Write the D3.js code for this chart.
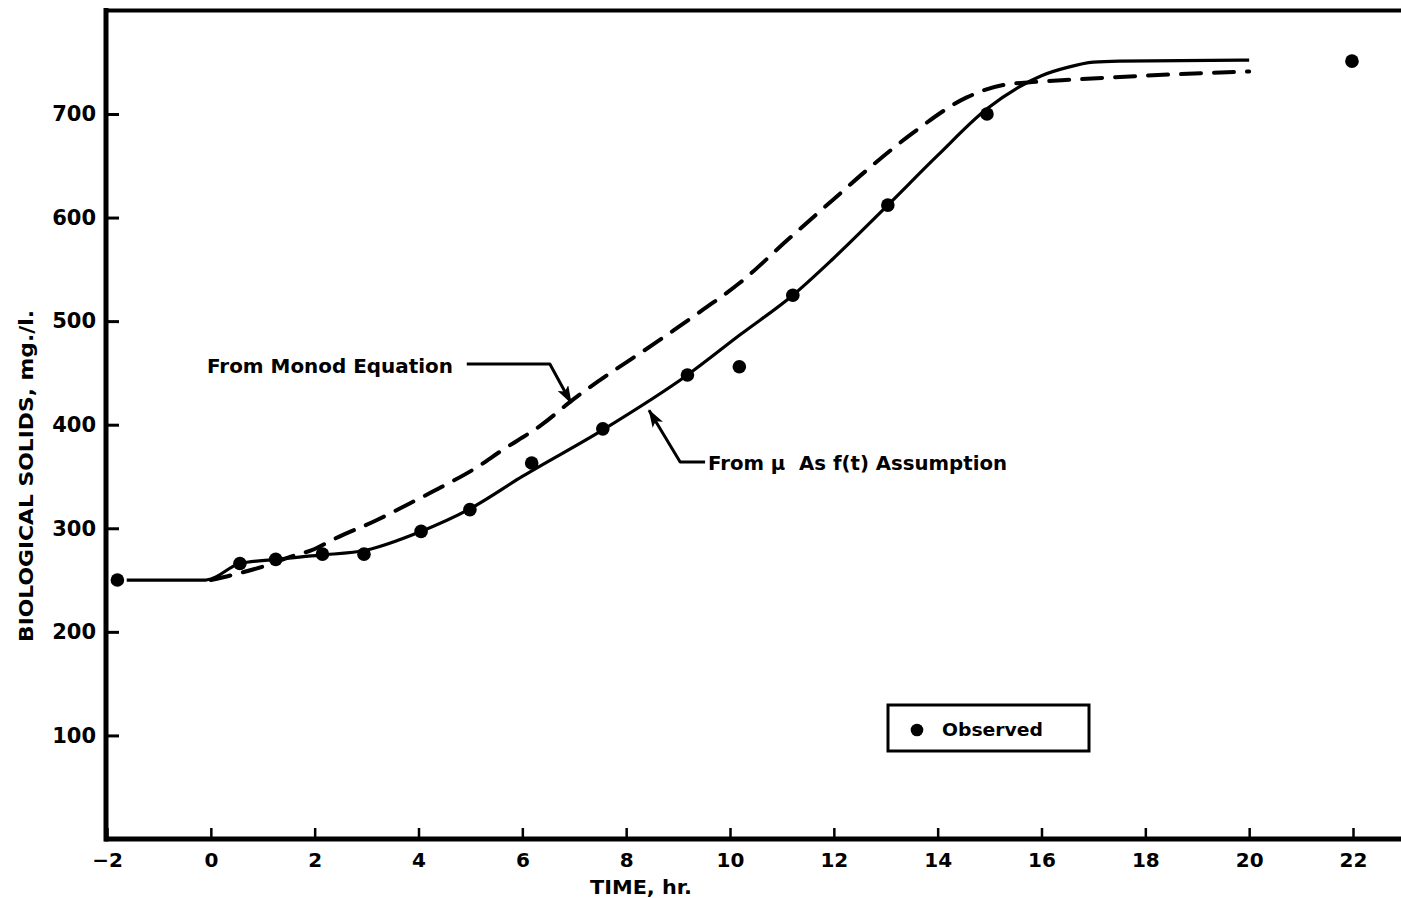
<!DOCTYPE html>
<html>
<head>
<meta charset="utf-8">
<script src="https://cdn.jsdelivr.net/npm/d3@7"></script>
<style>
  html, body { margin: 0; padding: 0; background: #fff; }
  svg { display: block; }
  text { font-family: "DejaVu Sans", "Liberation Sans", sans-serif; font-weight: bold; fill: #000; }
</style>
</head>
<body>
<svg id="chart" width="1401" height="898"></svg>
<script>
// ---- data ----
const obsTime   = [-1.8, 0.56, 1.25, 2.15, 2.95, 4.05, 4.99, 6.18, 7.55, 9.18, 10.18, 11.21, 13.04, 14.95, 21.98];
const obsSolids = [250, 266, 270, 275, 275, 297, 318, 363, 396, 448, 456, 525, 612, 700, 751];

const muTime   = [-1.62, -0.1, 0, 0.56, 1.25, 2.1, 3.0, 4.0, 5.0, 6.0, 7.55, 9.18, 10.2, 11.21, 11.98, 13.04, 14.0, 14.95, 15.6, 16.0, 16.5, 17.0, 17.5, 20];
const muSolids = [250, 250, 251, 266, 270, 274, 279, 296, 319, 350, 395, 448, 487, 525, 560, 612, 660, 705, 727, 737, 745, 750, 751, 752];

const monodTime   = [0, 0.5, 1, 1.5, 2, 2.35, 3.2, 3.83, 4.45, 5.13, 5.57, 6.4, 6.92, 8.71, 9.48, 10.19, 11.1, 11.98, 12.64, 13.53, 14.56, 15.26, 15.9, 16.55, 18, 20];
const monodSolids = [250, 256, 263, 272, 280, 289, 308, 324, 340, 359, 374, 401, 422, 484, 511, 537, 578, 617, 646, 682, 716, 728, 731, 733, 737, 741];

const xTicks = [-2, 0, 2, 4, 6, 8, 10, 12, 14, 16, 18, 20, 22];
const yTicks = [100, 200, 300, 400, 500, 600, 700];

const xTitle = "TIME, hr.";
const yTitle = "BIOLOGICAL SOLIDS, mg./l.";
const monodLabel = "From Monod Equation";
const muLabel = "From \u03BC  As f(t) Assumption";
const legendLabel = "Observed";

// annotation anchors in data units: [time, solids]
const monodLeader = [[4.93, 458.6], [6.53, 458.6], [6.94, 421]];
const muLeader    = [[9.52, 364], [9.04, 364], [8.44, 414]];

// ---- layout ----
const W = 1401, H = 898;
const svg = d3.select("#chart");
const x = d3.scaleLinear().domain([-2, 22]).range([107, 1353]);
const y = d3.scaleLinear().domain([0, 800]).range([839, 10.4]);

// frame
const fr = svg.append("g").attr("stroke", "#000").attr("stroke-linecap", "square");
fr.append("line").attr("x1", x(-2)).attr("x2", W).attr("y1", y(800)).attr("y2", y(800)).attr("stroke-width", 4);
fr.append("line").attr("x1", x(-2)).attr("x2", W).attr("y1", y(0)).attr("y2", y(0)).attr("stroke-width", 5);
fr.append("line").attr("x1", x(-2) - 1).attr("x2", x(-2) - 1).attr("y1", y(800)).attr("y2", y(0)).attr("stroke-width", 5);

// x axis
const gx = svg.append("g").attr("transform", `translate(0,${y(0)})`)
  .call(d3.axisBottom(x).tickValues(xTicks).tickSizeInner(-11).tickSizeOuter(0).tickPadding(14)
    .tickFormat(d => d < 0 ? "\u2212" + Math.abs(d) : String(d)));
gx.select(".domain").remove();
gx.selectAll(".tick line").attr("stroke", "#000").attr("stroke-width", 2.5);
gx.selectAll(".tick text").attr("font-size", 20).attr("fill", "#000")
  .attr("font-family", "DejaVu Sans").attr("font-weight", "bold");

// y axis
const gy = svg.append("g").attr("transform", `translate(${x(-2)},0)`)
  .call(d3.axisLeft(y).tickValues(yTicks).tickSizeInner(-12).tickSizeOuter(0).tickPadding(11));
gy.select(".domain").remove();
gy.selectAll(".tick line").attr("stroke", "#000").attr("stroke-width", 3);
gy.selectAll(".tick text").attr("font-size", 21).attr("fill", "#000")
  .attr("font-family", "DejaVu Sans").attr("font-weight", "bold");

// titles
svg.append("text").attr("x", 641).attr("y", 894).attr("text-anchor", "middle")
  .attr("font-size", 20).attr("textLength", 102).attr("lengthAdjust", "spacingAndGlyphs").text(xTitle);
svg.append("text").attr("transform", "translate(33,476) rotate(-90)").attr("text-anchor", "middle")
  .attr("font-size", 20).attr("textLength", 332).attr("lengthAdjust", "spacingAndGlyphs").text(yTitle);

// curves
const line = d3.line().x(d => x(d[0])).y(d => y(d[1])).curve(d3.curveMonotoneX);
svg.append("path").datum(muTime.map((t, i) => [t, muSolids[i]]))
  .attr("d", line).attr("fill", "none").attr("stroke", "#000").attr("stroke-width", 3.2);
svg.append("path").datum(monodTime.map((t, i) => [t, monodSolids[i]]))
  .attr("d", line).attr("fill", "none").attr("stroke", "#000").attr("stroke-width", 4)
  .attr("stroke-dasharray", "20,13").attr("stroke-linecap", "round");

// observed points
svg.append("g").selectAll("circle").data(obsTime.map((t, i) => [t, obsSolids[i]])).join("circle")
  .attr("cx", d => x(d[0])).attr("cy", d => y(d[1])).attr("r", 6.8).attr("fill", "#000");

// arrows
const defs = svg.append("defs");
defs.append("marker").attr("id", "arr").attr("viewBox", "0 0 18 12").attr("refX", 17).attr("refY", 6)
  .attr("markerWidth", 18).attr("markerHeight", 12).attr("markerUnits", "userSpaceOnUse").attr("orient", "auto")
  .append("path").attr("d", "M0,0 L18,6 L0,12 L4,6 Z").attr("fill", "#000");
const lead = d3.line().x(d => x(d[0])).y(d => y(d[1]));
[monodLeader, muLeader].forEach(pts => {
  svg.append("path").attr("d", lead(pts)).attr("fill", "none").attr("stroke", "#000")
    .attr("stroke-width", 3).attr("stroke-linejoin", "round").attr("marker-end", "url(#arr)");
});
svg.append("text").attr("x", 207).attr("y", 373).attr("font-size", 19)
  .attr("textLength", 246).attr("lengthAdjust", "spacingAndGlyphs").text(monodLabel);
svg.append("text").attr("x", 708).attr("y", 470).attr("font-size", 19).style("white-space", "pre")
  .attr("textLength", 299).attr("lengthAdjust", "spacingAndGlyphs").text(muLabel);

// legend
svg.append("rect").attr("x", 888).attr("y", 705).attr("width", 201).attr("height", 46)
  .attr("fill", "none").attr("stroke", "#000").attr("stroke-width", 3);
svg.append("circle").attr("cx", 917).attr("cy", 730).attr("r", 6.3).attr("fill", "#000");
svg.append("text").attr("x", 942).attr("y", 736).attr("font-size", 18)
  .attr("textLength", 101).attr("lengthAdjust", "spacingAndGlyphs").text(legendLabel);
</script>
</body>
</html>
